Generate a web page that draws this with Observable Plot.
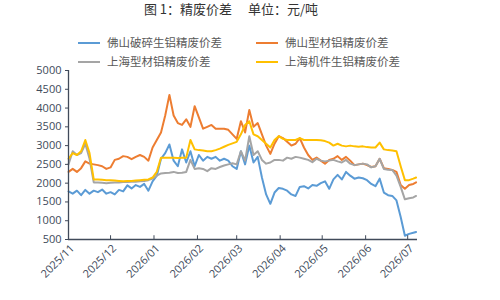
<!DOCTYPE html>
<html><head><meta charset="utf-8">
<script src="https://cdn.jsdelivr.net/npm/d3@7"></script>
<script src="https://cdn.jsdelivr.net/npm/@observablehq/plot@0.6"></script>
<style>
html,body{margin:0;padding:0;background:#fff;}
#wrap{position:relative;width:500px;height:300px;overflow:hidden;font-family:"Noto Sans CJK SC","Noto Sans",sans-serif;}
#title{position:absolute;left:0;width:462px;top:0;text-align:center;font-size:13px;color:#333;line-height:18px;}
.lg{position:absolute;font-size:11.5px;color:#595959;line-height:14px;white-space:nowrap;}
.lg span{display:inline-block;width:22px;height:2.5px;vertical-align:middle;margin-right:7px;position:relative;top:-1px;}
#chart{position:absolute;left:0;top:60px;}
</style></head>
<body><div id="wrap">
<div id="title">图 1：精废价差　 单位：元/吨</div>
<div id="legend"></div>
<div id="chart"></div>
</div>
<script>
const seriesNames = ["佛山破碎生铝精废价差","佛山型材铝精废价差","上海型材铝精废价差","上海机件生铝精废价差"];
const seriesColors = ["#5B9BD5","#ED7D31","#A5A5A5","#FFC000"];
const dates = [
"2025-11-01","2025-11-04","2025-11-07","2025-11-10","2025-11-13","2025-11-16","2025-11-19","2025-11-22","2025-11-25","2025-11-28",
"2025-12-01","2025-12-04","2025-12-07","2025-12-10","2025-12-13","2025-12-16","2025-12-19","2025-12-22","2025-12-25","2025-12-28","2025-12-31",
"2026-01-03","2026-01-06","2026-01-09","2026-01-12","2026-01-15","2026-01-18","2026-01-21","2026-01-24","2026-01-27","2026-01-30",
"2026-02-02","2026-02-05","2026-02-08","2026-02-11","2026-02-14","2026-02-17","2026-02-20","2026-02-23","2026-02-26",
"2026-03-01","2026-03-04","2026-03-07","2026-03-10","2026-03-13","2026-03-16","2026-03-19","2026-03-22","2026-03-25","2026-03-28","2026-03-31",
"2026-04-03","2026-04-06","2026-04-09","2026-04-12","2026-04-15","2026-04-18","2026-04-21","2026-04-24","2026-04-27","2026-04-30",
"2026-05-03","2026-05-06","2026-05-09","2026-05-12","2026-05-15","2026-05-18","2026-05-21","2026-05-24","2026-05-27","2026-05-30",
"2026-06-02","2026-06-05","2026-06-08","2026-06-11","2026-06-14","2026-06-17","2026-06-20","2026-06-23","2026-06-26","2026-06-29",
"2026-07-02","2026-07-05","2026-07-07"];
const foshanScrap = [1780,1720,1800,1680,1820,1720,1800,1760,1830,1720,
1760,1700,1820,1780,1940,1860,1950,1900,1980,1800,2050,
2200,2650,2800,3030,2600,2450,2900,2550,2850,2450,
2750,2600,2700,2650,2700,2600,2650,2600,2450,
2380,2850,2500,3000,2550,2700,2150,1700,1450,1750,1870,
1850,1800,1700,1660,1900,1920,1860,1950,1930,2000,
2050,1850,2100,2220,2100,2300,2200,2120,2150,2130,
2080,1980,1920,2120,1750,1680,1660,1540,1100,600,
650,680,700];
const foshanProfile = [2300,2380,2300,2400,2580,2520,2500,2480,2450,2380,
2420,2620,2650,2720,2700,2640,2700,2750,2700,2600,2950,
3150,3350,3800,4350,3800,3600,3550,3700,3500,4050,
3750,3450,3500,3550,3450,3450,3450,3420,3300,
3180,3650,3350,3950,3500,3600,3300,3000,2780,3050,3250,
3200,3100,3000,3050,3200,2950,2750,2620,2680,2600,
2520,2620,2650,2720,2620,2700,2600,2480,2500,2520,
2480,2430,2450,2650,2400,2380,2350,2300,1950,1850,
1950,1980,2020];
const shanghaiProfile = [2500,2850,2750,2800,3050,2650,2020,2020,2010,2000,
2010,2020,2020,2030,2030,2040,2040,2050,2060,2080,2120,
2200,2260,2270,2280,2300,2270,2280,2300,2620,2380,
2400,2380,2320,2400,2380,2430,2470,2500,2530,
2500,2850,2600,3250,2750,2850,2620,2520,2550,2620,2620,
2600,2680,2650,2700,2680,2650,2620,2560,2650,2600,
2580,2600,2620,2580,2550,2620,2520,2480,2500,2520,
2500,2420,2450,2650,2380,2360,2350,2200,1900,1570,
1600,1620,1660];
const shanghaiMachine = [2650,2800,2750,2850,3150,2800,2100,2100,2090,2080,
2080,2070,2060,2050,2060,2060,2070,2080,2090,2100,2150,
2300,2680,2680,2680,2680,2670,2680,2680,3150,2900,
2880,2870,2850,2850,2880,2920,2970,3020,3060,
3100,3300,3550,3650,3300,3250,3150,3050,2950,3150,3250,
3180,3150,3150,3150,3200,3150,3150,3150,3150,3140,
3120,3080,3000,3050,3000,2980,3000,2980,2970,2980,
2960,2950,2950,3080,2900,2880,2870,2850,2450,2080,
2080,2120,2150];
const yTicks = [500,1000,1500,2000,2500,3000,3500,4000,4500,5000];
const monthTicks = ["2025-11-01","2025-12-01","2026-01-01","2026-02-01","2026-03-01","2026-04-01","2026-05-01","2026-06-01","2026-07-01"];
const xDomain = ["2025-11-01","2026-07-08"];

const allSeries = [foshanScrap, foshanProfile, shanghaiProfile, shanghaiMachine];
const rows = [];
allSeries.forEach((vals, s) => vals.forEach((v, i) => rows.push({date: new Date(dates[i]), value: v, series: seriesNames[s]})));
const mTicks = monthTicks.map(d => new Date(d));

// legend
const legendPos = [[78,35],[256,35],[78,54],[256,54]];
const lg = document.getElementById("legend");
seriesNames.forEach((n, i) => {
  const d = document.createElement("div");
  d.className = "lg";
  d.style.left = legendPos[i][0] + "px";
  d.style.top = legendPos[i][1] + "px";
  d.innerHTML = `<span style="background:${seriesColors[i]}"></span>${n}`;
  lg.appendChild(d);
});

const axisColor = "#404a5a";
const chart = Plot.plot({
  width: 500, height: 240,
  marginLeft: 68, marginRight: 83, marginTop: 10, marginBottom: 61,
  style: {fontFamily: "'Open Sans','Noto Sans',sans-serif", fontSize: "11px", color: axisColor, background: "transparent"},
  x: {type: "utc", domain: xDomain.map(d => new Date(d))},
  y: {domain: [500, 5000]},
  color: {domain: seriesNames, range: seriesColors},
  marks: [
    Plot.lineY(rows, {x: "date", y: "value", z: "series", stroke: "series", strokeWidth: 2, strokeLinejoin: "round"}),
    Plot.ruleY([500], {stroke: axisColor, strokeWidth: 1.3}),
    Plot.ruleX([new Date(xDomain[0])], {stroke: axisColor, strokeWidth: 1.3}),
    Plot.ruleX(mTicks, {y1: 500, y2: 600, stroke: axisColor, strokeWidth: 1}),
    Plot.axisY({ticks: yTicks, tickFormat: d => String(d), tickSize: 3, tickPadding: 4, stroke: axisColor, fill: axisColor, label: null}),
    Plot.axisX({ticks: mTicks, tickFormat: d3.utcFormat("%Y/%m"), tickRotate: -45, tickSize: 0, tickPadding: 7, dx: 4, fill: axisColor, label: null})
  ]
});
document.getElementById("chart").appendChild(chart);
</script>
</body></html>
